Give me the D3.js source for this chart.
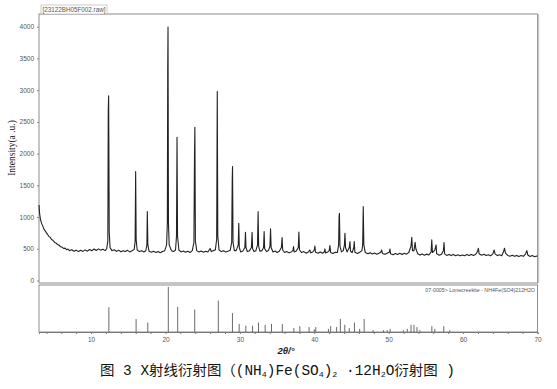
<!DOCTYPE html>
<html>
<head>
<meta charset="utf-8">
<script src="https://cdn.jsdelivr.net/npm/d3@7"></script>
<style>
  body { margin: 0; background: #fff; }
  svg { display: block; }
</style>
</head>
<body>
<div id="chart"></div>
<script>
// measured pattern: [2theta, intensity]
var profile = [
  [3.0,1190],[3.08,1060],[3.2,960],[3.35,900],[3.5,860],[3.7,800],[3.9,770],[4.1,735],[4.3,700],[4.5,680],
  [4.7,645],[4.9,630],[5.1,600],[5.3,590],[5.5,565],[5.7,555],[5.9,530],[6.1,525],[6.3,505],[6.5,510],
  [6.7,485],[6.9,495],[7.1,470],[7.4,485],[7.7,460],[8.0,478],[8.3,455],[8.6,475],[8.9,458],[9.2,482],
  [9.5,462],[9.8,488],[10.1,468],[10.4,495],[10.7,472],[11.0,498],[11.3,478],[11.6,492],[11.9,470],[12.1,500],
  [12.25,620],[12.31,2700],[12.36,2910],[12.44,760],[12.55,520],[12.8,470],[13.1,485],[13.4,458],[13.7,478],[14.0,452],
  [14.3,470],[14.6,455],[14.9,475],[15.2,450],[15.5,468],[15.8,490],[15.92,620],[15.99,1716],[16.06,640],[16.2,480],
  [16.5,455],[16.8,470],[17.1,450],[17.35,468],[17.5,560],[17.56,1085],[17.63,560],[17.8,460],[18.1,445],[18.4,462],
  [18.7,440],[19.0,458],[19.3,438],[19.6,455],[19.9,470],[20.15,560],[20.25,900],[20.3,3280],[20.34,3993],[20.4,900],
  [20.5,560],[20.8,470],[21.1,455],[21.35,480],[21.48,700],[21.55,2258],[21.62,700],[21.8,480],[22.1,450],[22.4,465],
  [22.7,445],[23.0,460],[23.3,440],[23.6,470],[23.82,600],[23.9,1953],[23.95,2416],[24.02,620],[24.2,470],[24.5,450],
  [24.8,465],[25.1,445],[25.4,460],[25.7,448],[26.0,505],[26.15,455],[26.4,470],[26.7,480],[26.88,650],[26.96,2978],
  [27.03,700],[27.2,480],[27.5,455],[27.8,470],[28.1,448],[28.4,462],[28.7,475],[28.9,600],[28.97,1585],[29.01,1795],
  [29.08,600],[29.25,470],[29.5,470],[29.78,560],[29.85,900],[29.92,520],[30.1,450],[30.4,465],[30.67,520],[30.75,760],
  [30.82,520],[31.0,455],[31.3,470],[31.55,520],[31.64,760],[31.71,500],[31.9,455],[32.15,470],[32.37,560],[32.45,1085],
  [32.52,540],[32.7,460],[32.95,470],[33.18,520],[33.26,770],[33.33,500],[33.6,455],[33.85,475],[34.04,540],[34.12,815],
  [34.2,520],[34.45,450],[34.75,465],[35.0,440],[35.3,460],[35.58,520],[35.67,675],[35.75,480],[36.0,440],[36.3,455],
  [36.6,435],[36.9,450],[37.13,470],[37.21,533],[37.29,450],[37.55,460],[37.85,520],[37.93,765],[38.01,480],[38.3,440],
  [38.6,455],[38.9,430],[39.2,448],[39.4,481],[39.5,435],[39.8,450],[40.0,480],[40.08,544],[40.16,445],[40.5,430],
  [40.8,450],[41.1,428],[41.35,450],[41.43,497],[41.51,432],[41.8,448],[42.0,470],[42.1,549],[42.2,440],[42.5,425],
  [42.8,445],[43.1,440],[43.27,560],[43.33,1006],[43.38,1060],[43.45,540],[43.65,450],[43.9,470],[44.05,560],[44.12,745],
  [44.2,520],[44.4,450],[44.7,520],[44.79,612],[44.87,460],[45.1,440],[45.3,520],[45.37,612],[45.45,445],[45.8,425],
  [46.1,445],[46.4,470],[46.5,560],[46.58,1164],[46.66,560],[46.85,440],[47.2,420],[47.5,438],[47.8,418],[48.1,432],
  [48.4,415],[48.7,430],[48.95,448],[49.06,481],[49.15,425],[49.5,412],[49.8,430],[50.1,450],[50.17,497],[50.25,420],
  [50.6,405],[50.9,425],[51.2,410],[51.5,428],[51.8,408],[52.1,430],[52.4,415],[52.7,440],[53.0,540],[53.1,681],
  [53.2,470],[53.4,470],[53.55,600],[53.65,500],[53.9,420],[54.2,400],[54.5,418],[54.8,398],[55.1,415],[55.4,402],
  [55.7,450],[55.79,639],[55.88,440],[56.2,480],[56.37,560],[56.45,420],[56.8,398],[57.1,415],[57.35,470],[57.44,596],
  [57.52,420],[57.8,395],[58.1,410],[58.4,392],[58.7,408],[59.0,390],[59.3,405],[59.6,388],[59.9,402],[60.2,390],
  [60.5,408],[60.8,392],[61.1,410],[61.4,395],[61.7,412],[61.95,460],[62.06,508],[62.15,420],[62.5,398],[62.8,412],
  [63.1,392],[63.4,405],[63.7,388],[64.0,420],[64.17,481],[64.3,420],[64.6,392],[64.9,405],[65.2,390],[65.45,460],
  [65.56,508],[65.7,430],[66.0,395],[66.3,382],[66.6,398],[66.9,380],[67.2,395],[67.5,378],[67.8,392],[68.1,380],
  [68.4,420],[68.57,470],[68.7,400],[69.0,378],[69.3,392],[69.6,375],[69.9,385],[70.0,380]
];

// reference card 07-0005 sticks: [2theta, relative intensity]
var refLines = [
  [12.39,55],[16.05,29],[17.62,21],[20.38,100],[21.64,56],[23.93,50],[27.1,70],[29.0,42],[29.9,18],[30.8,14],
  [31.7,14],[32.5,21],[33.4,16],[34.25,18],[35.7,18],[37.25,9],[38.06,13],[39.3,11],[40.0,6],[40.2,11],
  [41.9,7],[42.2,13],[43.0,11],[43.5,29],[44.1,16],[44.7,9],[45.4,21],[46.1,7],[46.7,29],[47.9,4],
  [49.3,4],[49.8,4],[50.2,7],[51.97,4],[52.5,7],[53.0,16],[53.4,16],[53.8,11],[54.2,4],[55.8,13],
  [56.2,7],[57.4,13],[58.2,4]
];

var yTicks = [0, 500, 1000, 1500, 2000, 2500, 3000, 3500, 4000];
var xLabelTicks = [10, 20, 30, 40, 50, 60, 70];
var xMinorTicks = [4, 6, 8, 12, 14, 16, 18, 22, 24, 26, 28, 32, 34, 36, 38, 42, 44, 46, 48, 52, 54, 56, 58, 62, 64, 66, 68];

var fileLabel = "[23122BH05F002.raw]";
var cardLabel = "07-0005> Lonecreekite - NH4Fe(SO4)212H2O";

var W = 557, H = 389;
var left = 39, right = 537.5;
var mainTop = 14, mainBottom = 283;
var refTop = 285, refBottom = 332;

var svg = d3.select("#chart").append("svg")
  .attr("width", W).attr("height", H);

var x = d3.scaleLinear().domain([3, 70]).range([left, right]);
var y = d3.scaleLinear().domain([-40, 4200]).range([mainBottom, mainTop]);
var yr = d3.scaleLinear().domain([0, 100]).range([refBottom, refTop + 2]);

var labelFont = "'Liberation Sans', Arial, sans-serif";

// main panel frame
svg.append("rect")
  .attr("x", left).attr("y", mainTop)
  .attr("width", right - left).attr("height", mainBottom - mainTop)
  .attr("fill", "none").attr("stroke", "#8c8c8c").attr("stroke-width", 1);
svg.append("line")
  .attr("x1", right + 1).attr("x2", right + 1)
  .attr("y1", mainTop).attr("y2", mainBottom)
  .attr("stroke", "#c8c8c8").attr("stroke-width", 1.5);

// y axis
var yAxis = svg.append("g")
  .attr("transform", "translate(" + left + ",0)")
  .call(d3.axisLeft(y).tickValues(yTicks).tickSize(2).tickPadding(3).tickFormat(d3.format("d")));
yAxis.select(".domain").remove();
yAxis.selectAll("line").attr("stroke", "#888");
yAxis.selectAll("text")
  .attr("font-family", labelFont).attr("font-size", 6.5).attr("fill", "#555");

// pattern line
var line = d3.line()
  .x(function(d) { return x(d[0]); })
  .y(function(d) { return y(d[1]); });

svg.append("path")
  .datum(profile)
  .attr("d", line)
  .attr("fill", "none")
  .attr("stroke", "#222")
  .attr("stroke-width", 1.1)
  .attr("stroke-linejoin", "round");

// file label
svg.append("rect")
  .attr("x", 41).attr("y", 5).attr("width", 66).attr("height", 9)
  .attr("fill", "#fff").attr("stroke", "#aaa").attr("stroke-width", 0.6);
svg.append("text")
  .attr("x", 42.5).attr("y", 12)
  .attr("font-family", labelFont).attr("font-size", 6.3).attr("fill", "#555")
  .text(fileLabel);

// reference panel
svg.append("rect")
  .attr("x", left).attr("y", refTop)
  .attr("width", right - left).attr("height", refBottom - refTop)
  .attr("fill", "none").attr("stroke", "#8c8c8c").attr("stroke-width", 1);

svg.append("g")
  .selectAll("line")
  .data(refLines)
  .enter().append("line")
  .attr("x1", function(d) { return x(d[0]); })
  .attr("x2", function(d) { return x(d[0]); })
  .attr("y1", yr(0))
  .attr("y2", function(d) { return yr(d[1]); })
  .attr("stroke", "#6a6a6a")
  .attr("stroke-width", 1);

var xAxis = svg.append("g")
  .attr("transform", "translate(0," + refBottom + ")")
  .call(d3.axisBottom(x).tickValues(xLabelTicks).tickSize(2).tickPadding(3).tickFormat(d3.format("d")));
xAxis.select(".domain").attr("stroke", "#777");
xAxis.selectAll("line").attr("stroke", "#777");
xAxis.selectAll("text")
  .attr("font-family", labelFont).attr("font-size", 6.5).attr("fill", "#555");

svg.append("g")
  .attr("transform", "translate(0," + refBottom + ")")
  .call(d3.axisBottom(x).tickValues(xMinorTicks).tickSize(2).tickFormat(""))
  .call(function(g) { g.select(".domain").remove(); })
  .selectAll("line").attr("stroke", "#777");

svg.append("text")
  .attr("x", 535).attr("y", 291.5)
  .attr("text-anchor", "end")
  .attr("font-family", labelFont).attr("font-size", 5.3).attr("fill", "#555")
  .text(cardLabel);

// axis titles
svg.append("text")
  .attr("transform", "translate(15,148) rotate(-90)")
  .attr("text-anchor", "middle")
  .attr("font-family", "'Liberation Serif', 'Times New Roman', serif")
  .attr("font-size", 9.5).attr("fill", "#111")
  .text("Intensity(a .u.)");

svg.append("text")
  .attr("x", 286).attr("y", 354)
  .attr("text-anchor", "middle")
  .attr("font-family", labelFont)
  .attr("font-style", "italic").attr("font-weight", "bold")
  .attr("font-size", 9.5).attr("fill", "#222")
  .text("2\u03b8/\u00b0");

// caption
var cap = svg.append("text")
  .attr("x", 100).attr("y", 375)
  .attr("font-family", "'Liberation Mono', 'Noto Sans CJK SC', monospace")
  .attr("font-size", 14).attr("fill", "#111")
  .attr("textLength", 355).attr("lengthAdjust", "spacingAndGlyphs");
var parts = [
  ["\u56fe 3 X\u5c04\u7ebf\u884d\u5c04\u56fe\uff08(NH", false],
  ["4", true],
  [")Fe(SO", false],
  ["4", true],
  [")", false],
  ["2", true],
  [" \u00b712H", false],
  ["2", true],
  ["O\u884d\u5c04\u56fe )", false]
];
parts.forEach(function(p, i) {
  var t = cap.append("tspan").text(p[0]);
  if (p[1]) t.attr("font-size", 8).attr("dy", 2);
  else if (i > 0 && parts[i - 1][1]) t.attr("dy", -2);
});
</script>
</body>
</html>
